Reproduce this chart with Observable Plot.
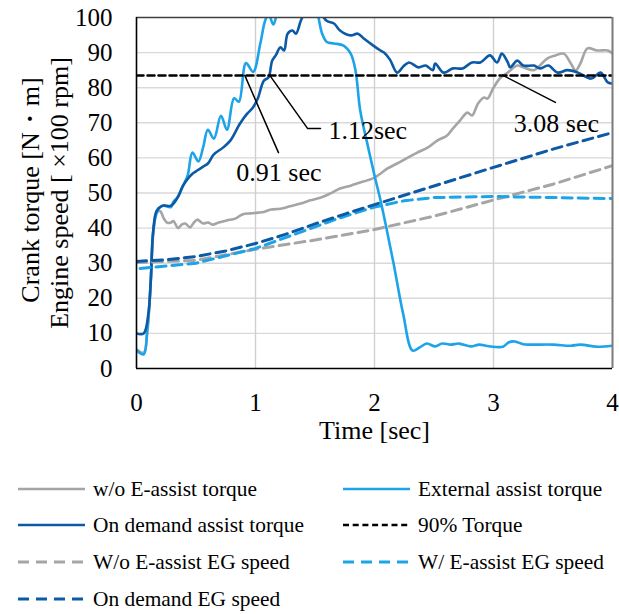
<!DOCTYPE html>
<html><head><meta charset="utf-8">
<script src="https://cdn.jsdelivr.net/npm/d3@7"></script>
<script src="https://cdn.jsdelivr.net/npm/@observablehq/plot@0.6"></script>
<style>
body{margin:0;background:#fff;font-family:"Liberation Serif","Times New Roman",serif;}
#chart{position:relative;width:619px;height:614px;overflow:hidden;}
.leg{position:absolute;height:26px;display:flex;align-items:center;font-size:21.4px;color:#000;white-space:nowrap;}
.leg svg{margin-right:8px;}
</style></head><body><div id="chart"></div>
<script>
// ---- tick values ----
const xTicks = [0, 1, 2, 3, 4];
const yTicks = [0, 10, 20, 30, 40, 50, 60, 70, 80, 90, 100];

// ---- series: [time (sec), value] ----
const woTorque = [[0,5.5],[0.06,4.5],[0.09,10],[0.12,25],[0.14,38],[0.17,44.5],[0.2,44.8],[0.23,42.7],[0.26,41.5],[0.29,41.6],[0.31,42],[0.35,40],[0.38,41],[0.41,41.3],[0.45,40.2],[0.48,41.5],[0.51,42.4],[0.56,41.3],[0.6,41.6],[0.64,41],[0.69,41.6],[0.76,42.2],[0.83,42.7],[0.89,43.9],[0.96,44.2],[1.02,44.4],[1.07,44.6],[1.13,45.3],[1.21,45.5],[1.29,46.2],[1.38,47],[1.46,47.9],[1.55,48.7],[1.63,49.9],[1.71,51.3],[1.8,52.1],[1.88,53],[1.94,53.6],[2.0,54.4],[2.05,55.5],[2.11,57],[2.19,58.4],[2.28,60.1],[2.36,61.5],[2.45,63],[2.53,65],[2.61,66.4],[2.66,68.4],[2.72,70.7],[2.78,72.9],[2.82,72.1],[2.87,75.5],[2.92,77.2],[2.95,76.9],[3.0,80],[3.06,82.9],[3.12,84.3],[3.2,86.3],[3.25,85.8],[3.34,85],[3.39,86.3],[3.45,88.3],[3.52,89.2],[3.59,89.7],[3.65,86.9],[3.69,84.9],[3.73,86.9],[3.79,91.2],[3.87,90.6],[3.96,90.6],[4.0,89.7]];
const externalTorque = [[0,5.2],[0.06,4.0],[0.09,10.8],[0.12,25],[0.14,39],[0.17,44.4],[0.2,46],[0.23,46.4],[0.29,46],[0.31,47.5],[0.35,49],[0.39,52],[0.43,55],[0.47,61.5],[0.52,59],[0.56,63],[0.6,68],[0.65,65.5],[0.71,72],[0.76,68],[0.82,77],[0.86,76],[0.92,87],[0.98,84.5],[1.04,92.5],[1.08,99],[1.11,101],[1.15,98],[1.2,103],[1.3,106],[1.4,106],[1.5,103],[1.56,95.4],[1.6,93],[1.66,92.6],[1.74,92],[1.8,89.7],[1.84,85],[1.88,73.5],[1.94,64],[2.0,55],[2.05,48],[2.1,40],[2.16,30],[2.24,15.7],[2.32,5.1],[2.38,6],[2.44,7.1],[2.51,6.3],[2.57,7.1],[2.64,6.8],[2.71,7.1],[2.81,6.3],[2.88,6.8],[2.95,6.4],[3.08,6.2],[3.13,7.5],[3.18,7.7],[3.25,6.9],[3.31,6.8],[3.5,6.8],[3.65,6.5],[3.73,6.8],[3.87,6.2],[4.0,6.5]];
const onDemandTorque = [[0,10],[0.06,10],[0.1,15.7],[0.12,25],[0.14,39],[0.17,45],[0.22,46.4],[0.29,46.4],[0.34,48.4],[0.39,52],[0.43,54],[0.47,55.5],[0.51,56.4],[0.56,57.5],[0.6,58.4],[0.65,61],[0.73,63],[0.79,65],[0.87,69.8],[0.93,72.6],[0.98,74.4],[1.02,77],[1.07,82],[1.11,83],[1.14,87.7],[1.17,89.2],[1.21,91.5],[1.24,90.6],[1.27,95.4],[1.31,96.3],[1.34,95.4],[1.38,99],[1.41,101],[1.48,103],[1.55,101],[1.6,99],[1.66,98.3],[1.71,96.3],[1.8,94.9],[1.86,95.4],[1.91,94],[1.99,92],[2.05,90.6],[2.08,90],[2.13,88],[2.19,84.3],[2.24,86],[2.29,87.2],[2.37,85.8],[2.43,86.3],[2.49,85],[2.51,86.9],[2.58,84.3],[2.66,85.5],[2.74,85.5],[2.82,87.2],[2.89,87.2],[2.97,89.2],[3.03,87.2],[3.07,89.7],[3.12,87.2],[3.14,85.8],[3.2,87.7],[3.25,86.3],[3.34,86.3],[3.39,85.5],[3.46,86.3],[3.54,84.3],[3.62,85],[3.71,84.3],[3.82,82.6],[3.9,84.3],[3.96,81.5],[4.0,81.2]];
const torque90 = [[0,83.5],[4,83.5]];
const woSpeed = [[0,30.2],[0.5,30.8],[1.0,34],[1.5,36.6],[2.0,39.6],[2.5,43.4],[3.0,48],[3.5,52.5],[4.0,57.8]];
const wSpeed = [[0.03,28.5],[0.5,30],[1.0,34.2],[1.35,38.5],[1.7,42.8],[2.0,46],[2.25,47.8],[2.5,48.7],[3.0,49],[3.5,48.7],[4.0,48.4]];
const onDemandSpeed = [[0,30.5],[0.25,31],[0.5,31.9],[0.75,33.5],[1.0,35.6],[1.25,38.2],[1.5,41.2],[1.75,44],[2.0,46.7],[2.5,52],[3.0,57.3],[3.5,62.5],[4.0,67.2]];

// ---- annotations ----
const annLabels = ["0.91 sec", "1.12sec", "3.08 sec"];
const annTextAt = [[1.197, 55.8], [1.613, 67.8], [3.529, 69.8]];
const annLeaders = [[[0.91,83.5],[1.193,61.5]], [[1.12,83.5],[1.437,68.4],[1.546,68.4]], [[3.08,83.5],[3.52,75.8]]];

// ---- labels ----
const xTitle = "Time [sec]";
const yTitle1 = "Crank torque [N・m]";
const yTitle2 = "Engine speed [ ×100 rpm]";
const seriesNames = ["w/o E-assist torque","External assist torque","On demand assist torque","90% Torque","W/o E-assist EG speed","W/ E-assist EG speed","On demand EG speed"];

// ---- styles (not data) ----
const GRAY = "#a5a5a5", LBLUE = "#1ca3e8", DBLUE = "#0c5aa6";
const styles = [
  {data: woTorque, color: GRAY, width: 2.6, dash: null, legDash: null},
  {data: externalTorque, color: LBLUE, width: 2.6, dash: null, legDash: null},
  {data: onDemandTorque, color: DBLUE, width: 2.6, dash: null, legDash: null},
  {data: torque90, color: "#000", width: 2.5, dash: "7,4", legDash: "6,3.7"},
  {data: woSpeed, color: GRAY, width: 3, dash: "10,6", legDash: "11,7"},
  {data: wSpeed, color: LBLUE, width: 3, dash: "10,6", legDash: "11,7"},
  {data: onDemandSpeed, color: DBLUE, width: 3, dash: "10,6", legDash: "11,7"}
];

const FONT = "Liberation Serif, Times New Roman, serif";
const annRows = annLabels.map((l, i) => ({label: l, t: annTextAt[i][0], v: annTextAt[i][1], anchor: i === 1 ? "start" : "middle"}));
const leaderRows = annLeaders.flatMap((pts, i) => pts.map(p => ({id: i, t: p[0], v: p[1]})));

const marks = [
  Plot.ruleY(yTicks.filter(d => d > 0 && d < 100), {stroke: "#d9d9d9", strokeWidth: 1.4}),
  Plot.ruleX(xTicks.filter(d => d > 0 && d < 4), {stroke: "#d0d0d0", strokeWidth: 1.4}),
  ...styles.map(s => Plot.line(s.data, {x: d => d[0], y: d => d[1], stroke: s.color, strokeWidth: s.width, strokeDasharray: s.dash, curve: s.dash ? "linear" : "catmull-rom", clip: true})),
  Plot.line(leaderRows, {x: "t", y: "v", z: "id", stroke: "#000", strokeWidth: 1.5}),
  Plot.text(annRows.filter(d => d.anchor === "middle"), {x: "t", y: "v", text: "label", textAnchor: "middle", fontSize: 26, fill: "#000"}),
  Plot.text(annRows.filter(d => d.anchor === "start"), {x: "t", y: "v", text: "label", textAnchor: "start", fontSize: 26, fill: "#000"}),
  Plot.ruleY([100], {stroke: "#404040", strokeWidth: 1.5}),
  Plot.ruleX([4], {stroke: "#7a7a7a", strokeWidth: 2}),
  Plot.ruleX([0], {stroke: "#000", strokeWidth: 1.6}),
  Plot.ruleY([0], {stroke: "#000", strokeWidth: 1.6}),
  Plot.axisX({ticks: xTicks, tickFormat: d => String(d), tickSize: 0, tickPadding: 25, fontSize: 25, label: null, fill: "#000"}),
  Plot.axisY({ticks: yTicks, tickFormat: d => String(d), tickSize: 0, tickPadding: 24, fontSize: 25, label: null, fill: "#000"}),
  Plot.text([xTitle], {text: d => d, frameAnchor: "bottom", dy: 70, textAnchor: "middle", fontSize: 26, fill: "#000"}),
  Plot.text([yTitle1], {text: d => d, frameAnchor: "left", dx: -106, dy: -3, rotate: -90, textAnchor: "middle", fontSize: 26, fill: "#000"}),
  Plot.text([yTitle2], {text: d => d, frameAnchor: "left", dx: -77, rotate: -90, textAnchor: "middle", fontSize: 26, fill: "#000"})
];

const chart = Plot.plot({
  width: 619, height: 460,
  marginLeft: 136, marginRight: 7, marginTop: 17, marginBottom: 92,
  x: {domain: [0, 4]},
  y: {domain: [0, 100]},
  style: {fontFamily: FONT, background: "#fff", color: "#000", overflow: "visible"},
  marks
});
const root = document.getElementById("chart");
root.appendChild(chart);

// ---- legend ----
const colX = [18, 343];
const rowY = [489, 525, 562, 599];
seriesNames.forEach((name, i) => {
  const s = styles[i];
  const div = document.createElement("div");
  div.className = "leg";
  div.style.left = colX[i % 2] + "px";
  div.style.top = (rowY[Math.floor(i / 2)] - 13) + "px";
  const ns = "http://www.w3.org/2000/svg";
  const svg = document.createElementNS(ns, "svg");
  svg.setAttribute("width", 67); svg.setAttribute("height", 8);
  const ln = document.createElementNS(ns, "line");
  ln.setAttribute("x1", 0); ln.setAttribute("x2", 67); ln.setAttribute("y1", 4); ln.setAttribute("y2", 4);
  ln.setAttribute("stroke", s.color); ln.setAttribute("stroke-width", s.width);
  if (s.legDash) ln.setAttribute("stroke-dasharray", s.legDash);
  svg.appendChild(ln);
  div.appendChild(svg);
  const sp = document.createElement("span");
  sp.textContent = name;
  div.appendChild(sp);
  root.appendChild(div);
});
</script></body></html>
